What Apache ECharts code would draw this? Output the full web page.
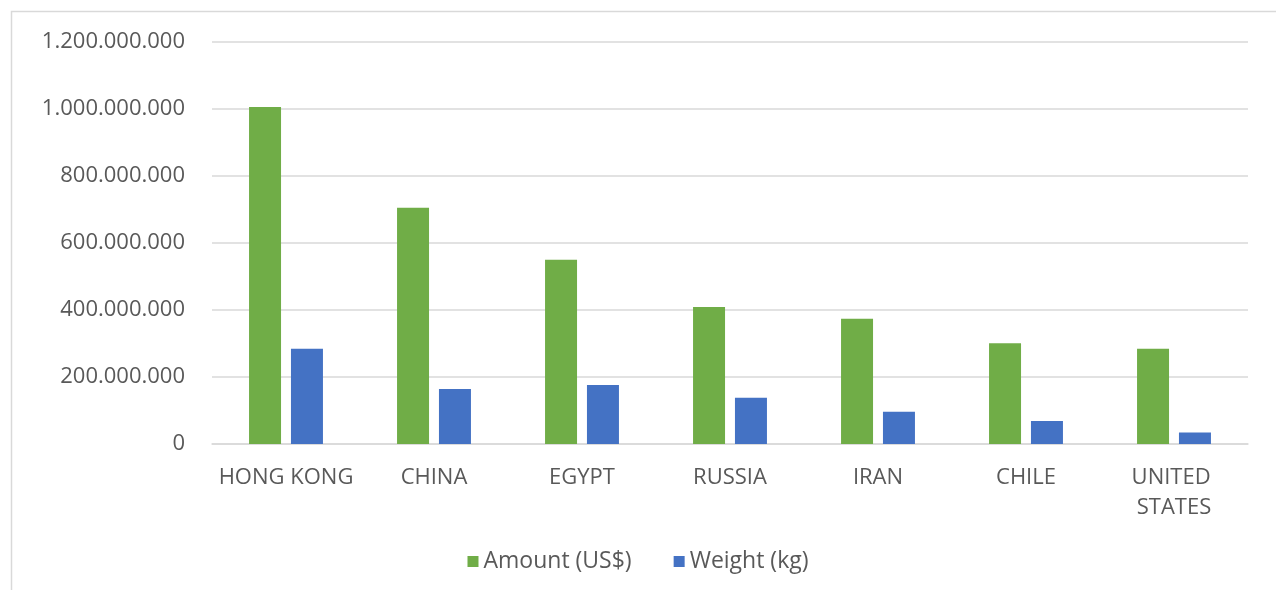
<!DOCTYPE html>
<html>
<head>
<meta charset="utf-8">
<style>
  html, body { margin: 0; padding: 0; background: #ffffff; }
  #chart { width: 1276px; height: 590px; }
</style>
<script src="https://cdn.jsdelivr.net/npm/echarts@6/dist/echarts.min.js"></script>
</head>
<body>
<div id="chart"></div>
<script>
// Export destinations, ordered by amount
const countries = ['HONG KONG', 'CHINA', 'EGYPT', 'RUSSIA', 'IRAN', 'CHILE', 'UNITED STATES'];
const amountUSD = [1006000000, 705000000, 550000000, 409000000, 374000000, 301000000, 284000000];
const weightKg = [284000000, 164000000, 176000000, 138000000, 96000000, 69000000, 34000000];
const seriesNames = ['Amount (US$)', 'Weight (kg)'];

const textColor = '#595959';
const fontFamily = '"Open Sans", "DejaVu Sans", sans-serif';

// Dots as thousands separators
function dotted(v) {
  return String(Math.round(v)).replace(/\B(?=(\d{3})+(?!\d))/g, '.');
}

const chart = echarts.init(document.getElementById('chart'));
chart.setOption({
  backgroundColor: '#ffffff',
  animation: false,
  textStyle: { fontFamily: fontFamily },
  graphic: [{
    type: 'rect',
    shape: { x: 11.5, y: 11.5, width: 1300, height: 620 },
    style: { fill: 'none', stroke: '#d9d9d9', lineWidth: 1.5 },
    silent: true
  }],
  grid: { left: 212, right: 28, top: 42, bottom: 146, containLabel: false },
  legend: {
    data: seriesNames,
    bottom: 12,
    left: 'center',
    icon: 'rect',
    itemWidth: 11,
    itemHeight: 11,
    itemGap: 42,
    textStyle: { color: textColor, fontSize: 23, fontFamily: fontFamily }
  },
  xAxis: {
    type: 'category',
    data: countries,
    axisLine: { show: true, lineStyle: { color: '#d9d9d9', width: 1.5 } },
    axisTick: { show: false },
    axisLabel: {
      interval: 0,
      color: textColor,
      fontSize: 22,
      lineHeight: 30,
      margin: 19,
      width: 140,
      overflow: 'break',
      fontFamily: fontFamily
    }
  },
  yAxis: {
    type: 'value',
    min: 0,
    max: 1200000000,
    interval: 200000000,
    axisLine: { show: false },
    axisTick: { show: false },
    splitLine: { lineStyle: { color: '#d9d9d9', width: 1.5 } },
    axisLabel: {
      color: textColor,
      fontSize: 22,
      margin: 27,
      fontFamily: fontFamily,
      formatter: dotted
    }
  },
  series: [
    {
      name: seriesNames[0],
      type: 'bar',
      data: amountUSD,
      barWidth: 32,
      barGap: '31%',
      itemStyle: { color: '#70ad47' }
    },
    {
      name: seriesNames[1],
      type: 'bar',
      data: weightKg,
      barWidth: 32,
      itemStyle: { color: '#4472c4' }
    }
  ]
});
</script>
</body>
</html>
